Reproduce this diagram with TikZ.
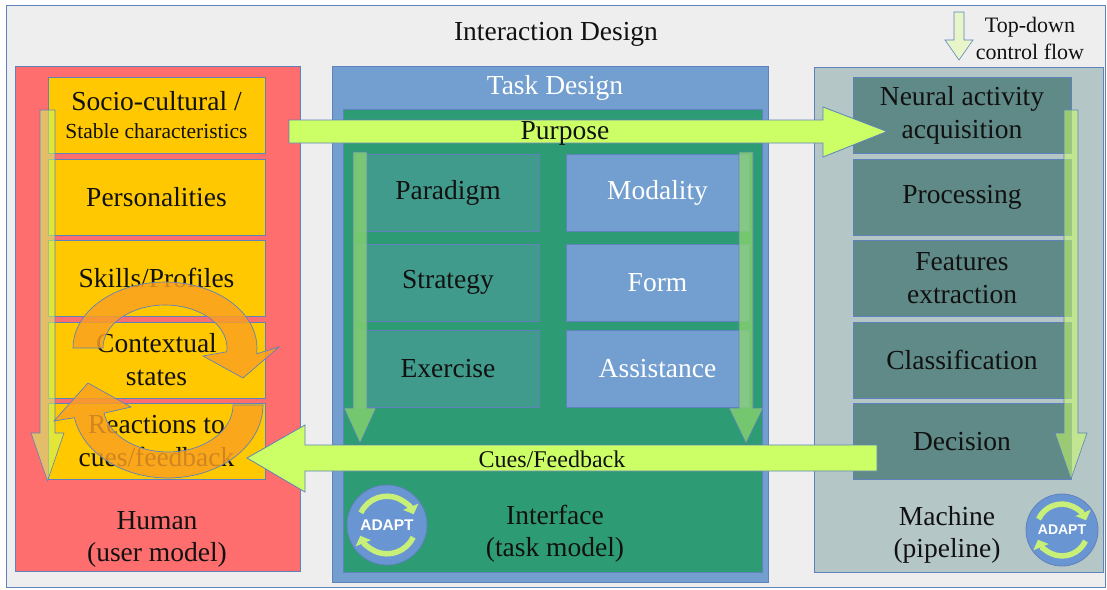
\documentclass[tikz,border=0pt]{standalone}
\usepackage{fontspec}
\setmainfont{Liberation Serif}
\newfontfamily\adaptfont{Liberation Sans}
\usetikzlibrary{arrows.meta}
\definecolor{bgc}{RGB}{238,238,238}
\definecolor{edgec}{RGB}{95,130,188}
\definecolor{humanc}{RGB}{255,110,110}
\definecolor{yellowc}{RGB}{255,200,0}
\definecolor{taskc}{RGB}{114,159,207}
\definecolor{greenc}{RGB}{45,155,115}
\definecolor{tealc}{RGB}{65,155,140}
\definecolor{machc}{RGB}{181,198,198}
\definecolor{stepc}{RGB}{95,138,135}
\definecolor{limec}{RGB}{204,255,102}
\definecolor{orangec}{RGB}{250,160,35}
\definecolor{paleg}{RGB}{232,245,200}
\definecolor{midg}{RGB}{140,215,110}
\definecolor{adaptg}{RGB}{200,240,120}
\definecolor{adaptb}{RGB}{105,150,210}
\definecolor{txt}{RGB}{17,17,17}
\begin{document}
\begin{tikzpicture}[x=1pt,y=-1pt,
  panel/.style={draw=edgec, line width=0.8pt, inner sep=0pt, outer sep=0pt},
  boxfont/.style={font=\fontsize{27.5}{33}\selectfont},
  hbox/.style={panel, fill=yellowc, minimum width=217pt, minimum height=76pt, align=center, text=txt, boxfont},
  mbox/.style={panel, fill=stepc, minimum width=218pt, minimum height=76pt, align=center, text=txt, boxfont},
  tbox/.style={panel, fill=tealc, minimum width=182pt, minimum height=77pt, text=txt, boxfont},
  bbox/.style={panel, fill=taskc, minimum width=183pt, minimum height=77pt, text=white, boxfont},
  lbl/.style={align=center, text=txt, inner sep=0pt, font=\fontsize{27.5}{32}\selectfont},
  blockarrow/.style={draw=edgec, line width=0.8pt, fill=limec},
  vhuman/.style={draw=edgec, line width=0.6pt, fill=limec, fill opacity=0.55},
  vtask/.style={draw=edgec, line width=0.6pt, fill=midg, fill opacity=0.75},
  orangearc/.style={draw=edgec, line width=0.7pt, fill=orangec, fill opacity=0.82},
  pics/adaptsym/.style args={#1/#2}{code={
    \node[draw=edgec, line width=0.8pt, fill=adaptb, circle, minimum size=#1, inner sep=0pt] (-c) at (0,0) {};
    \draw[adaptg, line width=5.5pt, -{Triangle[length=8pt,width=16pt]}] (155:0.36*#1) arc[start angle=155, end angle=22, radius=0.36*#1];
    \draw[adaptg, line width=5.5pt, -{Triangle[length=8pt,width=16pt]}] (-25:0.36*#1) arc[start angle=-25, end angle=-158, radius=0.36*#1];
    \node[text=white, font=\adaptfont\bfseries\fontsize{#2}{#2}\selectfont, inner sep=0pt] (-t) at (0,0) {ADAPT};
  }}
]
\useasboundingbox (0,0) rectangle (1107,589);
% outer frame
\node[panel, fill=bgc, minimum width=1099pt, minimum height=582pt] (outer) at (555.5,296) {};
\node[lbl] (title) at (556,34) {Interaction Design};
% top-down legend
\path[draw=edgec, line width=0.6pt, fill=paleg] (954,12) -- (964,12) -- (964,40) -- (973,40) -- (959,60) -- (945,40) -- (954,40) -- cycle;
\node[lbl, font=\fontsize{22}{27}\selectfont] (legend) at (1030,38) {Top-down\\control flow};

% Human panel
\node[panel, fill=humanc, minimum width=285pt, minimum height=505pt] (human) at (157.5,318.5) {};
\node[hbox] (socio) at (156.5,115) {Socio-cultural /\\[-5pt]{\fontsize{21.5}{24}\selectfont Stable characteristics}};
\node[hbox] (pers) at (156.5,197) {Personalities};
\node[hbox] (skills) at (156.5,278) {Skills/Profiles};
\node[hbox] (context) at (156.5,360) {Contextual\\states};
\node[hbox] (react) at (156.5,441.5) {Reactions to\\cues/feedback};
\node[lbl] (humanlbl) at (157,539) {Human\\(user model)};
% human top-down arrow
\path[vhuman] (40,110) -- (55,110) -- (55,433) -- (64,433) -- (47.5,481) -- (31,433) -- (40,433) -- cycle;
% orange cycle arrows
\path[orangearc] plot[domain=180:-5, samples=40] ({165+92*cos(\x)},{348-66*sin(\x)})
  -- (279,347) -- (243,378) -- (203,356)
  -- plot[domain=-5:180, samples=40] ({165+62*cos(\x)},{348-43*sin(\x)}) -- cycle;
\path[orangearc] plot[domain=0:-170, samples=40] ({168+95*cos(\x)},{405-73*sin(\x)})
  -- (54,421) -- (88,383) -- (131,407)
  -- plot[domain=-170:0, samples=40] ({168+65*cos(\x)},{405-47*sin(\x)}) -- cycle;

% Task design panel
\node[panel, fill=taskc, minimum width=436pt, minimum height=516pt] (task) at (550,324) {};
\node[lbl, text=white] (tasklbl) at (555,88) {Task Design};
\node[panel, fill=greenc, minimum width=419pt, minimum height=463pt] (iface) at (552.5,340.5) {};
\node[tbox] (paradigm) at (448,192.5) {Paradigm};
\node[tbox] (strategy) at (448,282.5) {Strategy};
\node[tbox] (exercise) at (448,368.5) {Exercise};
\node[bbox] (modality) at (657.5,192.5) {Modality};
\node[bbox] (form) at (657.5,282.5) {Form};
\node[bbox] (assist) at (657.5,368.5) {Assistance};
\path[vtask] (353,152) -- (367,152) -- (367,408) -- (376,408) -- (360,443) -- (344,408) -- (353,408) -- cycle;
\path[vtask] (739,152) -- (753,152) -- (753,408) -- (763,408) -- (746,443) -- (729,408) -- (739,408) -- cycle;
\node[lbl] (ifacelbl) at (555,534) {Interface\\(task model)};
\pic (adaptA) at (387,525) {adaptsym=80pt/15.5};

% Machine panel
\node[panel, fill=machc, minimum width=289pt, minimum height=505pt] (machine) at (958.5,319.5) {};
\node[mbox] (neural) at (962,115) {Neural activity\\acquisition};
\node[mbox] (proc) at (962,197) {Processing};
\node[mbox] (feat) at (962,278) {Features\\extraction};
\node[mbox] (classif) at (962,360) {Classification};
\node[mbox] (decision) at (962,441.5) {Decision};
\path[vhuman] (1064,110) -- (1078,110) -- (1078,433) -- (1087,433) -- (1071,479) -- (1055,433) -- (1064,433) -- cycle;
\node[lbl] (machlbl) at (947,535) {Machine\\(pipeline)};
\pic (adaptB) at (1062,530) {adaptsym=72pt/14};

% Purpose and Cues/Feedback arrows
\path[blockarrow] (289,120) -- (823,120) -- (823,107) -- (887,131.5) -- (823,157) -- (823,143) -- (289,143) -- cycle;
\node[lbl, font=\fontsize{27.5}{27.5}\selectfont] (purpose) at (565,133) {Purpose};
\path[blockarrow] (877,445) -- (305,445) -- (305,425) -- (247,458) -- (305,492) -- (305,471) -- (877,471) -- cycle;
\node[lbl, font=\fontsize{24}{24}\selectfont] (cues) at (552,459) {Cues/Feedback};
\end{tikzpicture}
\end{document}
